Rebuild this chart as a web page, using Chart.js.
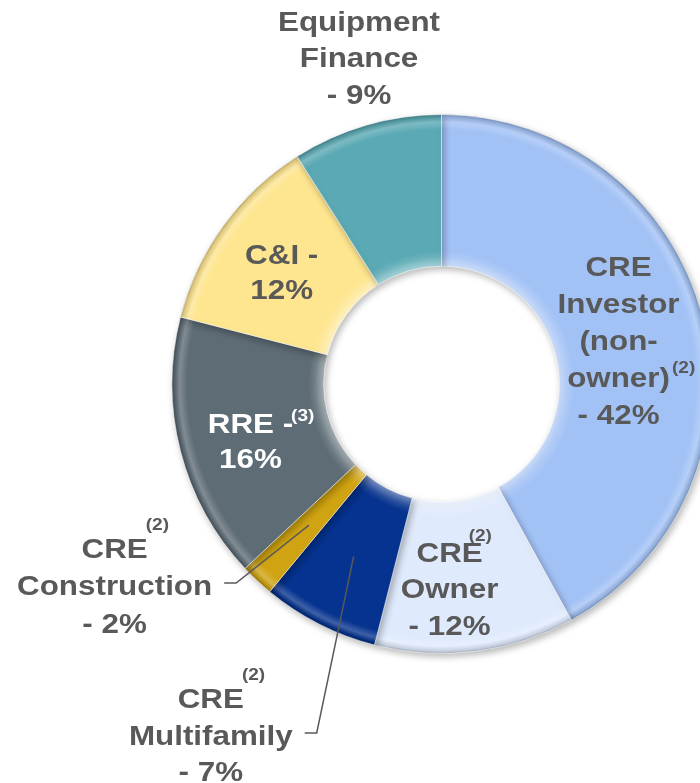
<!DOCTYPE html>
<html>
<head>
<meta charset="utf-8">
<script src="https://cdn.jsdelivr.net/npm/chart.js@4/dist/chart.umd.min.js"></script>
<style>
  html, body { margin: 0; padding: 0; background: #ffffff; overflow: hidden; }
  #wrap { position: absolute; left: 0; top: 0; width: 720px; height: 783px; }
</style>
</head>
<body>
<div id="wrap"><canvas id="c" width="720" height="783" style="width:720px;height:783px"></canvas></div>
<script>
// ---- data ----
const categories = ['CRE Investor (non-owner)', 'CRE Owner', 'CRE Multifamily', 'CRE Construction', 'RRE', 'C&I', 'Equipment Finance'];
const shares = [42, 12, 7, 2, 16, 12, 9];
const sliceColors = ['#a2c2f6', '#dfeafc', '#06338f', '#cfa311', '#5e6c76', '#fee58f', '#5aa9b4'];

// label lines: [text, superscript]; {v} is replaced by the share value
const labelLines = [
  [['CRE', ''], ['Investor', ''], ['(non-', ''], ['owner)', '(2)'], ['- {v}%', '']],
  [['CRE', '(2)'], ['Owner', ''], ['- {v}%', '']],
  [['CRE', '(2)'], ['Multifamily', ''], ['- {v}%', '']],
  [['CRE', '(2)'], ['Construction', ''], ['- {v}%', '']],
  [['RRE -', '(3)'], ['{v}%', '']],
  [['C&I -', ''], ['{v}%', '']],
  [['Equipment', ''], ['Finance', ''], ['- {v}%', '']]
];
const labelColors = ['#595959', '#595959', '#595959', '#595959', '#ffffff', '#595959', '#595959'];
// ---- layout (relative to chart centre, in units of outer radius) ----
const labelPos = [[0.657, -0.162], [0.03, 0.757], [-0.856, 1.302], [-1.213, 0.746], [-0.709, 0.209], [-0.593, -0.418], [-0.306, -1.213]];
const lineHeights = [37, 36.5, 36.5, 37.5, 35, 35, 36.5];
const supOffsets = [[2, -10], [-14, -17], [-2, -24], [-2, -24], [-2, -8], [0, 0], [0, 0]];
const hasLeader = [false, false, true, true, false, false, false];

const FONT = '"Liberation Sans", Arial, sans-serif';
const XSCALE = 1.12;

function hexToRgb(h) { h = h.replace('#', ''); return [parseInt(h.substr(0,2),16), parseInt(h.substr(2,2),16), parseInt(h.substr(4,2),16)]; }
function mix(hex, target, t) {
  const a = hexToRgb(hex), b = target;
  return 'rgb(' + a.map((v, i) => Math.round(v + (b[i] - v) * t)).join(',') + ')';
}

function sliceFill(c) {
  const base = sliceColors[c.dataIndex];
  const chart = c.chart;
  const ca = chart.chartArea;
  const meta = chart.getDatasetMeta(0);
  const ctl = meta && meta.controller;
  if (!ca || !ctl || !ctl.outerRadius) return base;
  const cx = (ca.left + ca.right) / 2 + (ctl.offsetX || 0);
  const cy = (ca.top + ca.bottom) / 2 + (ctl.offsetY || 0);
  const r0 = ctl.innerRadius, r1 = ctl.outerRadius;
  const g = chart.ctx.createRadialGradient(cx, cy, r0, cx, cy, r1);
  g.addColorStop(0, mix(base, [255,255,255], 0.45));
  g.addColorStop(0.06, mix(base, [255,255,255], 0.12));
  g.addColorStop(0.1, base);
  g.addColorStop(0.9, base);
  g.addColorStop(0.95, mix(base, [255,255,255], 0.22));
  g.addColorStop(0.985, mix(base, [0,0,0], 0.12));
  g.addColorStop(1, mix(base, [0,0,0], 0.3));
  return g;
}

const shadowPlugin = {
  id: 'shadow',
  beforeDatasetsDraw(chart) {
    const ctx = chart.ctx;
    ctx.save();
    ctx.shadowColor = 'rgba(0,0,0,0.28)';
    ctx.shadowBlur = 7;
    ctx.shadowOffsetX = 2;
    ctx.shadowOffsetY = 3;
  },
  afterDatasetsDraw(chart) { chart.ctx.restore(); }
};

function drawScaled(ctx, text, x, y, align) {
  ctx.save();
  ctx.translate(x, y);
  ctx.scale(XSCALE, 1);
  ctx.textAlign = align;
  ctx.fillText(text, 0, 0);
  ctx.restore();
}

const labelPlugin = {
  id: 'sliceLabels',
  afterDraw(chart) {
    const ctx = chart.ctx;
    const arcs = chart.getDatasetMeta(0).data;
    const cx = arcs[0].x, cy = arcs[0].y, R = arcs[0].outerRadius;
    ctx.save();
    ctx.textBaseline = 'alphabetic';
    labelLines.forEach((lines, i) => {
      const bx = cx + labelPos[i][0] * R;
      const by = cy + labelPos[i][1] * R;
      const n = lines.length;
      const lh = lineHeights[i];
      ctx.fillStyle = labelColors[i];
      let midRight = 0, midY = 0;
      lines.forEach((ln, k) => {
        const text = ln[0].replace('{v}', shares[i]);
        const yc = by + (k - (n - 1) / 2) * lh;
        const ybase = yc + 10;
        ctx.font = 'bold 28px ' + FONT;
        const w = ctx.measureText(text).width * XSCALE;
        drawScaled(ctx, text, bx, ybase, 'center');
        if (k === Math.floor(n / 2)) { midRight = bx + w / 2; midY = yc - 2; }
        if (ln[1]) {
          ctx.font = 'bold 17px ' + FONT;
          drawScaled(ctx, ln[1], bx + w / 2 + supOffsets[i][0], yc + 6 + supOffsets[i][1], 'left');
        }
      });
      if (hasLeader[i]) {
        const p = arcs[i].getCenterPoint();
        const sx = midRight + 12;
        ctx.strokeStyle = '#595959';
        ctx.lineWidth = 1.5;
        ctx.beginPath();
        ctx.moveTo(sx, midY);
        ctx.lineTo(sx + 12, midY);
        ctx.lineTo(p.x, p.y);
        ctx.stroke();
      }
    });
    ctx.restore();
  }
};

new Chart(document.getElementById('c'), {
  type: 'doughnut',
  data: {
    labels: categories,
    datasets: [{
      data: shares,
      backgroundColor: sliceFill,
      borderColor: 'rgba(255,255,255,0.55)',
      borderWidth: 1,
      hoverOffset: 0
    }]
  },
  options: {
    responsive: false,
    animation: false,
    cutout: '43.7%',
    rotation: 0,
    layout: { padding: { left: 171, right: 8, top: 114, bottom: 129 } },
    plugins: { legend: { display: false }, tooltip: { enabled: false } }
  },
  plugins: [shadowPlugin, labelPlugin]
});
</script>
</body>
</html>
